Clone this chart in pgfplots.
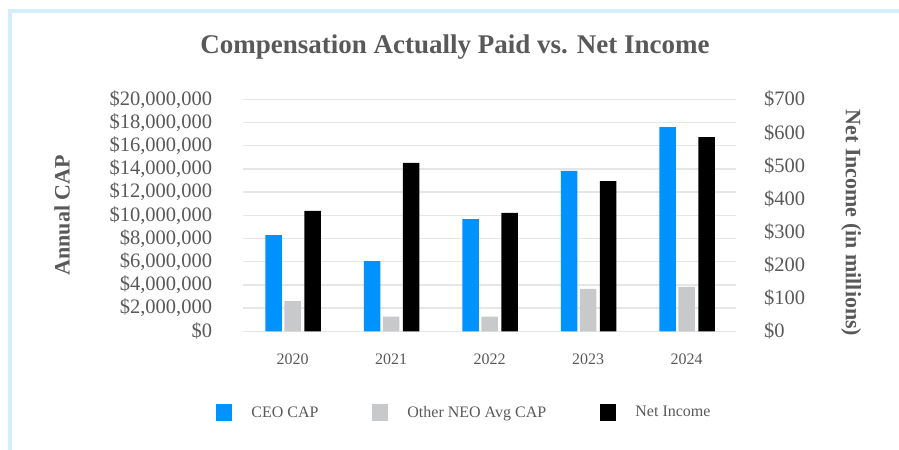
\documentclass[border=0pt]{standalone}
\usepackage{pgfplots}
\pgfplotsset{compat=1.18}
\usepackage{fontspec}
\setmainfont{Liberation Serif}
\definecolor{ceoblue}{RGB}{0,146,255}
\definecolor{neogray}{RGB}{200,201,203}
\definecolor{gridgray}{RGB}{230,230,230}
\definecolor{txtgray}{RGB}{89,89,89}
\definecolor{framebl}{RGB}{212,238,251}
\pgfplotsset{
 base/.style={
  at={(243.3bp,118.7bp)}, anchor=south west, scale only axis,
  width=492.5bp, height=232bp, xmin=-0.5, xmax=4.5, ymin=0,
  ybar, bar width=16.5bp,
  axis line style={draw=none}, major tick length=0pt,
  tick style={draw=none}, clip=false,
 },
 sq legend/.style={legend image code/.code={\fill[##1, draw=none] (0bp,-8.5bp) rectangle (16bp,8.5bp);}},
}
\begin{document}
\begin{tikzpicture}
\path[use as bounding box] (0,0) rectangle (899bp,450bp);
\fill[framebl] (8bp,0) rectangle (12bp,441bp);
\fill[framebl] (8bp,437.3bp) rectangle (899bp,441bp);
\begin{axis}[base, ymax=20000000,
 ytick={0,2000000,4000000,6000000,8000000,10000000,12000000,14000000,16000000,18000000,20000000},
 yticklabels={{\$0},{\$2,000,000},{\$4,000,000},{\$6,000,000},{\$8,000,000},{\$10,000,000},{\$12,000,000},{\$14,000,000},{\$16,000,000},{\$18,000,000},{\$20,000,000}},
 scaled y ticks=false,
 ymajorgrids, grid style={gridgray, line width=1.5bp},
 xtick={0,1,2,3,4}, xticklabels={2020,2021,2022,2023,2024},
 xticklabel style={anchor=center, yshift=-27.7bp, font=\fontsize{16bp}{19bp}\selectfont, text=txtgray, inner sep=0pt},
 yticklabel style={anchor=east, xshift=-31bp, inner sep=0pt, font=\fontsize{20.5bp}{24bp}\selectfont, text=txtgray},
 title={Compensation Actually Paid vs. Net Income},
 every axis title/.style={at={(axis description cs:0.43,1.225)}, anchor=center, font=\bfseries\fontsize{27bp}{31bp}\selectfont, text=txtgray},
 ylabel={Annual CAP},
 every axis y label/.style={at={(axis description cs:-0.368,0.5)}, rotate=90, anchor=center, font=\bfseries\fontsize{22bp}{26bp}\selectfont, text=txtgray},
]
\addplot[fill=ceoblue, draw=none, bar shift=-19bp] coordinates {(0,8300000) (1,6060000) (2,9680000) (3,13820000) (4,17610000)};
\addplot[fill=neogray, draw=none, bar shift=0bp] coordinates {(0,2610000) (1,1260000) (2,1260000) (3,3650000) (4,3820000)};
\end{axis}
\begin{axis}[base, ymax=700,
 xtick=\empty,
 ytick={0,100,200,300,400,500,600,700},
 yticklabels={{\$0},{\$100},{\$200},{\$300},{\$400},{\$500},{\$600},{\$700}},
 yticklabel pos=right,
 yticklabel style={anchor=west, xshift=28bp, inner sep=0pt, font=\fontsize{20.5bp}{24bp}\selectfont, text=txtgray},
 ylabel={Net Income (in millions)},
 every axis y label/.style={at={(axis description cs:1.234,0.467)}, rotate=-90, anchor=center, font=\bfseries\fontsize{22bp}{26bp}\selectfont, text=txtgray},
 legend columns=3,
 legend style={at={(axis description cs:-0.0554,-0.35)}, anchor=west, draw=none, fill=none, inner sep=0pt, outer sep=0pt, column sep=0pt,
   nodes={inner sep=0pt, anchor=west, text=txtgray, font=\fontsize{16bp}{19bp}\selectfont}},
]
\addplot[fill=black, draw=none, bar shift=20bp, forget plot] coordinates {(0,363) (1,508) (2,357) (3,453) (4,586)};
\addlegendimage{sq legend, fill=ceoblue}
\addlegendentry{\makebox[140bp][l]{\hspace*{19.4bp}CEO CAP}}
\addlegendimage{sq legend, fill=neogray}
\addlegendentry{\makebox[212bp][l]{\hspace*{19.4bp}Other NEO Avg CAP}}
\addlegendimage{sq legend, fill=black}
\addlegendentry{\hspace*{19.4bp}Net Income}
\end{axis}
\end{tikzpicture}
\end{document}
